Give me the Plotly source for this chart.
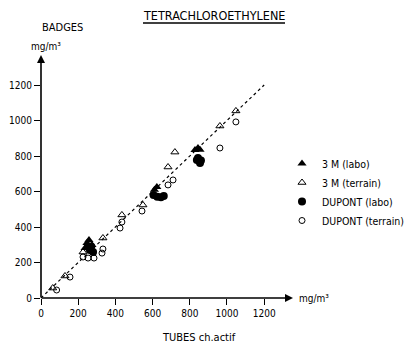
import plotly.graph_objects as go

# ---- data (mg/m3): x = TUBES ch.actif, y = BADGES ----
m3_labo_x = [237, 247, 258, 274, 610, 623, 828, 844, 855]
m3_labo_y = [282, 310, 327, 299, 610, 625, 834, 845, 835]

m3_terrain_x = [63, 129, 226, 333, 435, 548, 683, 720, 962, 1048]
m3_terrain_y = [56, 124, 259, 338, 468, 524, 738, 822, 969, 1054]

dupont_labo_x = [253, 263, 280, 270, 605, 625, 645, 660, 838, 844, 855, 860]
dupont_labo_y = [287, 270, 259, 290, 580, 570, 568, 575, 777, 789, 760, 775]

dupont_terrain_x = [84, 156, 226, 253, 285, 328, 333, 425, 435, 543, 683, 710, 962, 1048]
dupont_terrain_y = [45, 118, 231, 225, 225, 253, 276, 394, 428, 490, 637, 665, 845, 992]

ref_line_x = [0, 1200]
ref_line_y = [0, 1200]

tick_vals = [0, 200, 400, 600, 800, 1000, 1200]
tick_text = ["0", "200", "400", "600", "800", "1000", "1200"]

FONT = "Liberation Sans Narrow, DejaVu Sans Condensed, Arial Narrow, sans-serif"

fig = go.Figure()
fig.add_trace(go.Scatter(x=ref_line_x, y=ref_line_y, mode="lines",
                         line=dict(color="black", width=1.2, dash="3px,3px"),
                         showlegend=False, hoverinfo="skip"))
fig.add_trace(go.Scatter(x=m3_labo_x, y=m3_labo_y, mode="markers", name="3 M (labo)",
                         marker=dict(symbol="triangle-up", size=8, color="black")))
fig.add_trace(go.Scatter(x=m3_terrain_x, y=m3_terrain_y, mode="markers", name="3 M (terrain)",
                         marker=dict(symbol="triangle-up-open", size=7, color="black",
                                     line=dict(width=1, color="black"))))
fig.add_trace(go.Scatter(x=dupont_labo_x, y=dupont_labo_y, mode="markers", name="DUPONT (labo)",
                         marker=dict(symbol="circle", size=8, color="black")))
fig.add_trace(go.Scatter(x=dupont_terrain_x, y=dupont_terrain_y, mode="markers", name="DUPONT (terrain)",
                         marker=dict(symbol="circle-open", size=6, color="black",
                                     line=dict(width=1, color="black"))))

L, R, T, B = 41, 117, 55, 47
W, H = 410, 345
pw, ph = W - L - R, H - T - B

def px(xpix):
    return (xpix - L) / pw

def py(ypix):
    return (H - B - ypix) / ph

axis_common = dict(showgrid=False, zeroline=False, showline=False,
                   ticks="outside", ticklen=6, tickwidth=1.2, tickcolor="black",
                   tickvals=tick_vals, ticktext=tick_text,
                   tickfont=dict(family=FONT, size=10, color="black"))

fig.update_xaxes(range=[0, 1355], **axis_common)
fig.update_yaxes(range=[0, 1369], **axis_common)

ann = []
# axes with arrows
ann.append(dict(x=1355, y=0, ax=-5, ay=0, xref="x", yref="y", axref="x", ayref="y",
                showarrow=True, arrowhead=2, arrowsize=1, arrowwidth=1.6, arrowcolor="black", text=""))
ann.append(dict(x=0, y=1369, ax=0, ay=-5, xref="x", yref="y", axref="x", ayref="y",
                showarrow=True, arrowhead=2, arrowsize=1, arrowwidth=1.6, arrowcolor="black", text=""))

def label(xp, yp, text, size=11, xanchor="center"):
    ann.append(dict(x=px(xp), y=py(yp), xref="paper", yref="paper", text=text,
                    xanchor=xanchor, yanchor="middle", showarrow=False,
                    font=dict(family=FONT, size=size, color="black")))

label(214, 15, "TETRACHLOROETHYLENE", 12.5)
label(62, 27, "BADGES", 11)
label(46, 46, "mg/m³", 10)
label(297, 298, "mg/m³", 10, xanchor="left")
label(199, 337, "TUBES ch.actif", 11)

fig.update_layout(
    width=W, height=H,
    margin=dict(l=L, r=R, t=T, b=B, pad=0, autoexpand=False),
    paper_bgcolor="white", plot_bgcolor="white",
    annotations=ann,
    shapes=[dict(type="line", xref="paper", yref="paper", x0=px(143), x1=px(285),
                 y0=py(23), y1=py(23), line=dict(color="black", width=1.5))],
    legend=dict(x=px(282), y=py(149), xanchor="left", yanchor="top",
                font=dict(family=FONT, size=10.5, color="black"),
                itemwidth=30, bgcolor="rgba(0,0,0,0)", tracegroupgap=0),
    font=dict(family=FONT),
)

fig.write_html("out.html")
